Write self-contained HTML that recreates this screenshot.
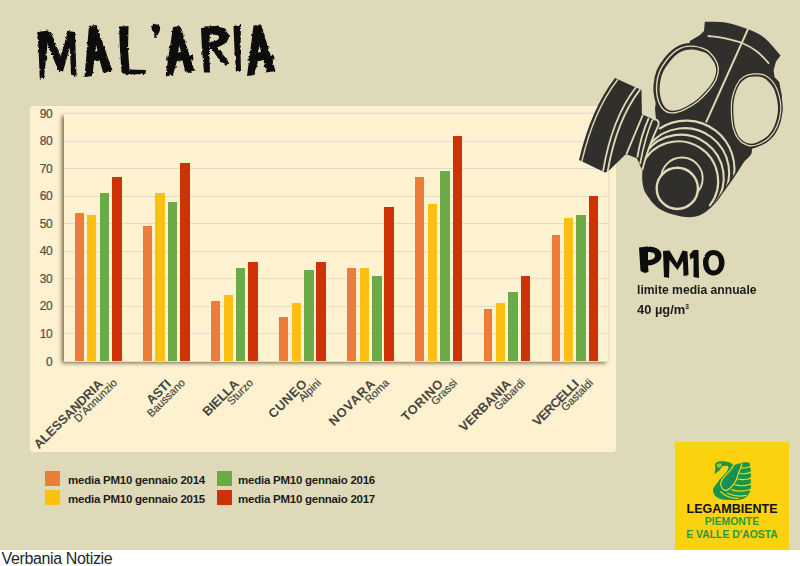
<!DOCTYPE html>
<html><head><meta charset="utf-8"><title>Mal'aria</title>
<style>
html,body{margin:0;padding:0;background:#fff;}
body{width:800px;height:566px;position:relative;overflow:hidden;font-family:"Liberation Sans",sans-serif;}
#bg{position:absolute;left:0;top:0;width:800px;height:549.5px;background:#ded9b9;}
#panel{position:absolute;left:30px;top:106px;width:586.2px;height:345.5px;background:#fdf1cf;border-radius:3.5px;}
#plot{position:absolute;left:64px;top:113.5px;width:544px;height:247.80px;background:#fef2d0;box-shadow:-2px 2px 4px rgba(70,55,20,.75);}
.gl{position:absolute;left:64px;width:544px;height:1px;background:#dfddd0;}
.yl{position:absolute;left:30px;width:22.1px;text-align:right;font-size:12px;letter-spacing:-.5px;line-height:15px;color:#504f45;-webkit-text-stroke:.2px #504f45;}
.b{position:absolute;width:9.3px;}
.xl{position:absolute;width:200px;height:30px;text-align:right;transform-origin:100% 0;transform:rotate(-45deg);color:#47463f;white-space:nowrap;}
.xl b{display:block;font-size:12.8px;line-height:13px;font-weight:bold;}
.xl i{display:block;font-style:normal;font-size:10.9px;line-height:11px;margin-right:-10.8px;margin-top:-2.2px;-webkit-text-stroke:.2px #47463f;}
.lg{position:absolute;width:15.5px;height:14.5px;}
.lt{position:absolute;font-size:11.5px;letter-spacing:-.24px;font-weight:bold;color:#1d1d1b;white-space:nowrap;line-height:14px;}
#lim{position:absolute;left:637px;top:280px;font-weight:bold;color:#1d1d1b;font-size:13.5px;line-height:19.6px;white-space:nowrap;}
#lim span{display:block;transform-origin:0 50%;}
#lim .l1{transform:scaleX(.9);}
#lim .l2{transform:scaleX(.955);}
#lim sup{font-size:7px;vertical-align:baseline;position:relative;top:-5px;line-height:0;}
#logo{position:absolute;left:675px;top:442px;width:114px;height:107.5px;background:#fcd20f;}
#logo .l1{position:absolute;left:0;width:114px;top:502.5px;}
.lgt{position:absolute;left:675px;width:114px;text-align:center;font-weight:bold;white-space:nowrap;}
#vn{position:absolute;left:1.5px;top:549px;letter-spacing:-.36px;font-size:16px;line-height:19px;color:#262626;white-space:nowrap;}
svg{position:absolute;left:0;top:0;}
</style></head><body>
<div id="bg"></div>
<div id="panel"></div>
<div id="plot"></div>
<div class="gl" style="top:113.00px"></div>
<div class="gl" style="top:140.53px"></div>
<div class="gl" style="top:168.07px"></div>
<div class="gl" style="top:195.60px"></div>
<div class="gl" style="top:223.13px"></div>
<div class="gl" style="top:250.67px"></div>
<div class="gl" style="top:278.20px"></div>
<div class="gl" style="top:305.73px"></div>
<div class="gl" style="top:333.27px"></div>
<div class="gl" style="top:360.80px"></div>
<div class="yl" style="top:106.70px">90</div>
<div class="yl" style="top:134.23px">80</div>
<div class="yl" style="top:161.77px">70</div>
<div class="yl" style="top:189.30px">60</div>
<div class="yl" style="top:216.83px">50</div>
<div class="yl" style="top:244.37px">40</div>
<div class="yl" style="top:271.90px">30</div>
<div class="yl" style="top:299.43px">20</div>
<div class="yl" style="top:326.97px">10</div>
<div class="yl" style="top:354.50px">0</div>
<div class="b" style="left:74.90px;top:212.62px;width:8.9px;height:148.68px;background:#ec7c38"></div>
<div class="b" style="left:87.30px;top:215.37px;width:9.2px;height:145.93px;background:#fcc010"></div>
<div class="b" style="left:99.50px;top:193.35px;width:9.8px;height:167.95px;background:#6baa47"></div>
<div class="b" style="left:112.00px;top:176.83px;width:9.5px;height:184.47px;background:#cf3208"></div>
<div class="b" style="left:143.00px;top:226.39px;width:8.9px;height:134.91px;background:#ec7c38"></div>
<div class="b" style="left:155.40px;top:193.35px;width:9.2px;height:167.95px;background:#fcc010"></div>
<div class="b" style="left:167.60px;top:201.61px;width:9.8px;height:159.69px;background:#6baa47"></div>
<div class="b" style="left:180.10px;top:163.06px;width:9.5px;height:198.24px;background:#cf3208"></div>
<div class="b" style="left:211.10px;top:300.73px;width:8.9px;height:60.57px;background:#ec7c38"></div>
<div class="b" style="left:223.50px;top:295.22px;width:9.2px;height:66.08px;background:#fcc010"></div>
<div class="b" style="left:235.70px;top:267.69px;width:9.8px;height:93.61px;background:#6baa47"></div>
<div class="b" style="left:248.20px;top:262.18px;width:9.5px;height:99.12px;background:#cf3208"></div>
<div class="b" style="left:279.20px;top:317.25px;width:8.9px;height:44.05px;background:#ec7c38"></div>
<div class="b" style="left:291.60px;top:303.48px;width:9.2px;height:57.82px;background:#fcc010"></div>
<div class="b" style="left:303.80px;top:270.44px;width:9.8px;height:90.86px;background:#6baa47"></div>
<div class="b" style="left:316.30px;top:262.18px;width:9.5px;height:99.12px;background:#cf3208"></div>
<div class="b" style="left:347.30px;top:267.69px;width:8.9px;height:93.61px;background:#ec7c38"></div>
<div class="b" style="left:359.70px;top:267.69px;width:9.2px;height:93.61px;background:#fcc010"></div>
<div class="b" style="left:371.90px;top:275.95px;width:9.8px;height:85.35px;background:#6baa47"></div>
<div class="b" style="left:384.40px;top:207.11px;width:9.5px;height:154.19px;background:#cf3208"></div>
<div class="b" style="left:415.40px;top:176.83px;width:8.9px;height:184.47px;background:#ec7c38"></div>
<div class="b" style="left:427.80px;top:204.36px;width:9.2px;height:156.94px;background:#fcc010"></div>
<div class="b" style="left:440.00px;top:171.32px;width:9.8px;height:189.98px;background:#6baa47"></div>
<div class="b" style="left:452.50px;top:135.53px;width:9.5px;height:225.77px;background:#cf3208"></div>
<div class="b" style="left:483.50px;top:308.99px;width:8.9px;height:52.31px;background:#ec7c38"></div>
<div class="b" style="left:495.90px;top:303.48px;width:9.2px;height:57.82px;background:#fcc010"></div>
<div class="b" style="left:508.10px;top:292.47px;width:9.8px;height:68.83px;background:#6baa47"></div>
<div class="b" style="left:520.60px;top:275.95px;width:9.5px;height:85.35px;background:#cf3208"></div>
<div class="b" style="left:551.60px;top:234.65px;width:8.9px;height:126.65px;background:#ec7c38"></div>
<div class="b" style="left:564.00px;top:218.13px;width:9.2px;height:143.17px;background:#fcc010"></div>
<div class="b" style="left:576.20px;top:215.37px;width:9.8px;height:145.93px;background:#6baa47"></div>
<div class="b" style="left:588.70px;top:196.10px;width:9.5px;height:165.20px;background:#cf3208"></div>
<div class="xl" style="left:-104.50px;top:377.2px"><b style="letter-spacing:-0.09px;margin-right:0.09px">ALESSANDRIA</b><i>D’Annunzio</i></div>
<div class="xl" style="left:-36.40px;top:377.2px"><b style="letter-spacing:-0.16px;margin-right:0.16px">ASTI</b><i>Baussano</i></div>
<div class="xl" style="left:31.70px;top:377.2px"><b style="letter-spacing:-0.19px;margin-right:0.19px">BIELLA</b><i>Sturzo</i></div>
<div class="xl" style="left:99.80px;top:377.2px"><b style="letter-spacing:0.56px;margin-right:-0.56px">CUNEO</b><i>Alpini</i></div>
<div class="xl" style="left:167.90px;top:377.2px"><b style="letter-spacing:0.9px;margin-right:-0.9px">NOVARA</b><i>Roma</i></div>
<div class="xl" style="left:236.00px;top:377.2px"><b style="letter-spacing:0.64px;margin-right:-0.64px">TORINO</b><i>Grassi</i></div>
<div class="xl" style="left:304.10px;top:377.2px"><b style="letter-spacing:0.04px;margin-right:-0.04px">VERBANIA</b><i>Gabardi</i></div>
<div class="xl" style="left:372.20px;top:377.2px"><b style="letter-spacing:-0.55px;margin-right:0.55px">VERCELLI</b><i>Gastaldi</i></div>
<div class="lg" style="left:44.5px;top:471px;background:#ec7c38"></div>
<div class="lg" style="left:44.5px;top:490px;background:#fcc010"></div>
<div class="lg" style="left:216.5px;top:471px;background:#6baa47"></div>
<div class="lg" style="left:216.5px;top:490px;background:#cf3208"></div>
<div class="lt" style="left:68px;top:473px">media PM10 gennaio 2014</div>
<div class="lt" style="left:68px;top:492px">media PM10 gennaio 2015</div>
<div class="lt" style="left:238px;top:473px">media PM10 gennaio 2016</div>
<div class="lt" style="left:238px;top:492px">media PM10 gennaio 2017</div>
<div id="lim"><span class="l1">limite media annuale</span><span class="l2">40 µg/m<sup>3</sup></span></div>
<div id="logo"></div>
<div class="lgt" style="top:502px;font-size:12.5px;line-height:14px;color:#111;">LEGAMBIENTE</div>
<div class="lgt" style="top:516px;font-size:10.4px;line-height:12px;color:#1f9a48;">PIEMONTE</div>
<div class="lgt" style="top:528.5px;font-size:10.4px;line-height:12px;color:#1f9a48;">E VALLE D'AOSTA</div>
<div id="vn">Verbania Notizie</div>
<svg width="800" height="566" viewBox="0 0 800 566">
<defs>
<filter id="rough" x="-5%" y="-10%" width="110%" height="120%">
<feTurbulence type="fractalNoise" baseFrequency="0.35" numOctaves="2" seed="7" result="n"/>
<feDisplacementMap in="SourceGraphic" in2="n" scale="3" xChannelSelector="R" yChannelSelector="G"/>
</filter>
</defs>
<g fill="#0e0e0d" filter="url(#rough)">
<!-- M -->
<path d="M37.5,32 L48.5,30.5 L46.5,55 L43.8,79 L39.8,78.5 L38.8,55 Z"/>
<path d="M43,33 L51,32 L64,65 L59.5,73.5 Z"/>
<path d="M57,70 L63,71.5 L74,33 L68,31 Z"/>
<path d="M67.5,31 L75,32 L76.5,76.5 L71,74.5 L70,50 Z"/>
<!-- A1 -->
<path fill-rule="evenodd" d="M89,26 L96.5,25 L112.5,71 L103,72.5 L99.5,60 L94,60.5 L92.5,76 L84.5,77 Z M96,44.5 L97.5,51 L95.2,51.5 Z"/>
<!-- L -->
<path d="M119,26.5 L128.5,26 L128,50 L129.5,69.5 L146,70 L145.5,74 L126,74.5 L121.5,72 L120,50 Z"/>
<!-- apostrophe -->
<path d="M152,26 C153,23.5 159,23.5 160,27 C161,31 158,34 155.5,38 L154,37.5 C155,34 155,33 153,31.5 C151.5,30 151.3,28 152,26 Z"/>
<!-- A2 -->
<path fill-rule="evenodd" d="M173,27 L180.5,26 L194.5,71 L185.5,72.5 L182.5,60.5 L177,61 L173,75 L165.5,76.5 Z M179.3,45 L180.8,52 L178,52.5 Z"/>
<path d="M166.5,56.5 L193,55.5 L193.5,59.5 L166,60.5 Z"/>
<!-- R -->
<path d="M201,28 L209.5,27.5 L209,50 L210,72.5 L204,72.5 L202,50 Z"/>
<path fill-rule="evenodd" d="M203,26.5 L215,26 C223,26.5 228,30 229,36 C229,43 220,47 210,49.5 L209,44 Z M209.5,34.5 L217,35 C220,36 220,38.5 216.5,40.5 L209.5,42.5 Z"/>
<path d="M209,45 L214.5,44 L229,62 L226,66 L218,58 Z"/>
<!-- I -->
<path d="M233.5,26 L241,25 L240.5,50 L241,72 L236,71.5 L234.5,50 Z"/>
<!-- A3 -->
<path fill-rule="evenodd" d="M253.5,25.5 L261,24.5 L275.5,71 L266.5,72.5 L263.5,60.5 L258,61 L254.5,75 L247,76 Z M259.3,44.5 L261,52 L258,52.5 Z"/>
<path d="M248,56.5 L274,55.5 L274.5,59.5 L247.5,60.5 Z"/>
</g>

<g id="mask">
<path fill="#302f2b" d="M704.8,21.8 C708.1,21.9 718.1,21.4 725.0,22.5 C731.9,23.6 739.5,26.0 746.0,28.5 C752.5,31.0 758.2,33.0 764.0,37.5 C769.8,42.0 777.8,52.5 780.5,55.5 L776,61.5 L773.6,70 L774.5,77 L779.2,82 L781.8,95.3 L782.2,109.5 L780,123.6 L774.8,134.2 L766,143 L755.3,147.8 L752.5,148.5 L733.6,177.5 L716,201.5 L700,190 L660,170 L645,160 L659,124 L656,119 L655,109 L656,100 L675,100 L690,41 L700,35 L704,31 Z"/>
<path fill="#302f2b" d="M751.6,149.5 C753.7,155.1 745.6,159.1 742.6,163.8 C739.6,168.6 736.7,173.4 733.6,178.0 C730.5,182.6 727.3,187.1 724.0,191.5 C720.7,195.9 718.1,200.5 714.0,204.5 C709.9,208.5 704.7,213.5 699.3,215.5 C693.9,217.5 688.1,217.6 681.5,216.5 C674.9,215.4 665.5,212.6 659.7,209.0 C653.9,205.4 649.6,199.0 646.8,195.0 C644.0,191.0 643.6,188.6 642.9,185.0 C642.1,181.4 642.1,177.0 642.3,173.4 C642.5,169.8 642.6,167.4 643.9,163.5 C645.2,159.6 647.0,155.2 650.0,150.0 C653.0,144.8 655.3,137.0 662.0,132.0 C668.7,127.0 678.7,120.3 690.0,120.0 C701.3,119.7 719.7,125.1 730.0,130.0 C740.3,134.9 749.5,143.9 751.6,149.5 Z"/>
<clipPath id="vclip"><path d="M600,100 L755,100 L755,145 L751.3,149.3 L713.7,204.3 L699,215 L690,230 L600,230 Z"/></clipPath>
<path d="M690.4,48.8 C694.6,48.8 700.9,50.2 704.5,52.0 C708.1,53.8 710.4,57.1 712.3,59.8 C714.1,62.5 715.4,65.2 715.6,68.3 C715.8,71.4 715.1,74.9 713.7,78.2 C712.3,81.5 710.4,84.5 707.4,88.0 C704.4,91.5 700.0,96.2 696.0,99.4 C692.0,102.6 687.3,105.3 683.3,107.1 C679.3,108.9 675.2,110.3 672.0,110.2 C668.8,110.1 666.3,108.7 664.3,106.4 C662.3,104.1 660.8,100.0 660.0,96.5 C659.2,93.0 658.9,89.2 659.3,85.2 C659.6,81.2 660.5,76.5 662.1,72.5 C663.8,68.5 666.4,64.6 669.2,61.2 C672.0,57.8 675.6,54.1 679.1,52.0 C682.6,49.9 686.2,48.8 690.4,48.8 Z" fill="none" stroke="#302f2b" stroke-width="11.6" stroke-linejoin="round"/>
<path d="M690.4,48.8 C694.6,48.8 700.9,50.2 704.5,52.0 C708.1,53.8 710.4,57.1 712.3,59.8 C714.1,62.5 715.4,65.2 715.6,68.3 C715.8,71.4 715.1,74.9 713.7,78.2 C712.3,81.5 710.4,84.5 707.4,88.0 C704.4,91.5 700.0,96.2 696.0,99.4 C692.0,102.6 687.3,105.3 683.3,107.1 C679.3,108.9 675.2,110.3 672.0,110.2 C668.8,110.1 666.3,108.7 664.3,106.4 C662.3,104.1 660.8,100.0 660.0,96.5 C659.2,93.0 658.9,89.2 659.3,85.2 C659.6,81.2 660.5,76.5 662.1,72.5 C663.8,68.5 666.4,64.6 669.2,61.2 C672.0,57.8 675.6,54.1 679.1,52.0 C682.6,49.9 686.2,48.8 690.4,48.8 Z" fill="none" stroke="#ded9b9" stroke-width="6.8" stroke-linejoin="round"/>
<path d="M690.4,48.8 C694.6,48.8 700.9,50.2 704.5,52.0 C708.1,53.8 710.4,57.1 712.3,59.8 C714.1,62.5 715.4,65.2 715.6,68.3 C715.8,71.4 715.1,74.9 713.7,78.2 C712.3,81.5 710.4,84.5 707.4,88.0 C704.4,91.5 700.0,96.2 696.0,99.4 C692.0,102.6 687.3,105.3 683.3,107.1 C679.3,108.9 675.2,110.3 672.0,110.2 C668.8,110.1 666.3,108.7 664.3,106.4 C662.3,104.1 660.8,100.0 660.0,96.5 C659.2,93.0 658.9,89.2 659.3,85.2 C659.6,81.2 660.5,76.5 662.1,72.5 C663.8,68.5 666.4,64.6 669.2,61.2 C672.0,57.8 675.6,54.1 679.1,52.0 C682.6,49.9 686.2,48.8 690.4,48.8 Z" fill="#302f2b" stroke="#302f2b" stroke-width="4.0" stroke-linejoin="round"/>
<path d="M690.4,48.8 C694.6,48.8 700.9,50.2 704.5,52.0 C708.1,53.8 710.4,57.1 712.3,59.8 C714.1,62.5 715.4,65.2 715.6,68.3 C715.8,71.4 715.1,74.9 713.7,78.2 C712.3,81.5 710.4,84.5 707.4,88.0 C704.4,91.5 700.0,96.2 696.0,99.4 C692.0,102.6 687.3,105.3 683.3,107.1 C679.3,108.9 675.2,110.3 672.0,110.2 C668.8,110.1 666.3,108.7 664.3,106.4 C662.3,104.1 660.8,100.0 660.0,96.5 C659.2,93.0 658.9,89.2 659.3,85.2 C659.6,81.2 660.5,76.5 662.1,72.5 C663.8,68.5 666.4,64.6 669.2,61.2 C672.0,57.8 675.6,54.1 679.1,52.0 C682.6,49.9 686.2,48.8 690.4,48.8 Z" fill="#ded9b9" transform="translate(0.5,0.6)"/>
<path d="M753.6,76.3 C756.9,76.1 761.0,76.0 764.2,77.7 C767.4,79.4 770.8,83.0 773.0,86.5 C775.2,90.0 776.5,94.8 777.4,98.9 C778.3,103.0 778.7,106.8 778.3,111.2 C777.9,115.6 776.6,121.3 774.8,125.4 C773.0,129.5 770.7,133.2 767.7,136.0 C764.8,138.8 760.3,141.0 757.1,142.2 C753.9,143.4 751.1,143.8 748.3,143.0 C745.5,142.2 742.4,140.3 740.3,137.7 C738.2,135.0 736.6,131.2 735.5,127.1 C734.4,123.0 734.0,117.7 733.8,113.0 C733.6,108.3 733.7,103.3 734.5,98.9 C735.3,94.5 736.9,89.8 738.6,86.5 C740.3,83.2 742.2,80.8 744.7,79.1 C747.2,77.4 750.4,76.5 753.6,76.3 Z" fill="none" stroke="#302f2b" stroke-width="8.6" stroke-linejoin="round"/>
<path d="M753.6,76.3 C756.9,76.1 761.0,76.0 764.2,77.7 C767.4,79.4 770.8,83.0 773.0,86.5 C775.2,90.0 776.5,94.8 777.4,98.9 C778.3,103.0 778.7,106.8 778.3,111.2 C777.9,115.6 776.6,121.3 774.8,125.4 C773.0,129.5 770.7,133.2 767.7,136.0 C764.8,138.8 760.3,141.0 757.1,142.2 C753.9,143.4 751.1,143.8 748.3,143.0 C745.5,142.2 742.4,140.3 740.3,137.7 C738.2,135.0 736.6,131.2 735.5,127.1 C734.4,123.0 734.0,117.7 733.8,113.0 C733.6,108.3 733.7,103.3 734.5,98.9 C735.3,94.5 736.9,89.8 738.6,86.5 C740.3,83.2 742.2,80.8 744.7,79.1 C747.2,77.4 750.4,76.5 753.6,76.3 Z" fill="none" stroke="#ded9b9" stroke-width="6.0" stroke-linejoin="round"/>
<path d="M753.6,76.3 C756.9,76.1 761.0,76.0 764.2,77.7 C767.4,79.4 770.8,83.0 773.0,86.5 C775.2,90.0 776.5,94.8 777.4,98.9 C778.3,103.0 778.7,106.8 778.3,111.2 C777.9,115.6 776.6,121.3 774.8,125.4 C773.0,129.5 770.7,133.2 767.7,136.0 C764.8,138.8 760.3,141.0 757.1,142.2 C753.9,143.4 751.1,143.8 748.3,143.0 C745.5,142.2 742.4,140.3 740.3,137.7 C738.2,135.0 736.6,131.2 735.5,127.1 C734.4,123.0 734.0,117.7 733.8,113.0 C733.6,108.3 733.7,103.3 734.5,98.9 C735.3,94.5 736.9,89.8 738.6,86.5 C740.3,83.2 742.2,80.8 744.7,79.1 C747.2,77.4 750.4,76.5 753.6,76.3 Z" fill="#302f2b" stroke="#302f2b" stroke-width="3.6" stroke-linejoin="round"/>
<path d="M753.6,76.3 C756.9,76.1 761.0,76.0 764.2,77.7 C767.4,79.4 770.8,83.0 773.0,86.5 C775.2,90.0 776.5,94.8 777.4,98.9 C778.3,103.0 778.7,106.8 778.3,111.2 C777.9,115.6 776.6,121.3 774.8,125.4 C773.0,129.5 770.7,133.2 767.7,136.0 C764.8,138.8 760.3,141.0 757.1,142.2 C753.9,143.4 751.1,143.8 748.3,143.0 C745.5,142.2 742.4,140.3 740.3,137.7 C738.2,135.0 736.6,131.2 735.5,127.1 C734.4,123.0 734.0,117.7 733.8,113.0 C733.6,108.3 733.7,103.3 734.5,98.9 C735.3,94.5 736.9,89.8 738.6,86.5 C740.3,83.2 742.2,80.8 744.7,79.1 C747.2,77.4 750.4,76.5 753.6,76.3 Z" fill="#ded9b9" transform="translate(-0.4,0.3)"/>
<path d="M748,29 L706,122.5" stroke="#ded9b9" stroke-width="1.9" fill="none"/>
<path d="M708.5,36.0 C711.2,36.4 719.4,37.1 725.0,38.3 C730.6,39.5 736.7,40.8 742.0,43.0 C747.3,45.2 752.6,48.2 757.0,51.5 C761.4,54.8 766.6,61.1 768.5,63.0" stroke="#ded9b9" stroke-width="1.8" fill="none" stroke-linecap="round"/>
<g clip-path="url(#vclip)">
<path d="M642.4,164.4 A39.7,39.7 0 1 1 709.8,205.4" stroke="#ded9b9" stroke-width="2.1" fill="none" stroke-linecap="round"/>
<path d="M646.1,152.0 A43.1,43.1 0 0 1 715.2,203.6" stroke="#ded9b9" stroke-width="2.1" fill="none" stroke-linecap="round"/>
<path d="M649.8,144.6 A44.7,44.7 0 0 1 721.4,198.0" stroke="#ded9b9" stroke-width="2.1" fill="none" stroke-linecap="round"/>
<path d="M659.7,128.5 A48.3,48.3 0 0 1 732.2,183.4" stroke="#ded9b9" stroke-width="2.1" fill="none" stroke-linecap="round"/>
</g>
<circle cx="681.9" cy="178.3" r="20.8" fill="#302f2b" stroke="#ded9b9" stroke-width="1.9"/>
<circle cx="677.3" cy="188.4" r="20.6" fill="#302f2b" stroke="#ded9b9" stroke-width="2.4"/>
<path fill="#302f2b" d="M615,78 L641.5,90 L641.9,114.2 L653,119.3 C657,119 660,122 658.3,126 L650,145 L642,170 L637,158.5 L626,154 L608,171.5 L605,172.5 L579,160 Q591,109 615,78 Z"/>
<path d="M617.8,79.5 Q593.8,110 581.8,161.5" stroke="#ded9b9" stroke-width="1.4" fill="none"/>
<path d="M636,87.3 Q612,118 603,171.5" stroke="#ded9b9" stroke-width="1.8" fill="none"/>
<path d="M640,89.6 Q616.5,120 607.5,172" stroke="#ded9b9" stroke-width="1.8" fill="none"/>
<path d="M642.8,115 L626.5,154" stroke="#ded9b9" stroke-width="1.9" fill="none"/>
<path d="M648.8,118 Q641,135 637.3,157.5" stroke="#ded9b9" stroke-width="1.8" fill="none"/>
<path d="M652.3,120 Q645,138 640,164" stroke="#ded9b9" stroke-width="1.7" fill="none"/>
<path d="M652.5,119.6 C656.5,118.6 660,121 658.3,125.5 Q648,147 642.3,170" stroke="#ded9b9" stroke-width="1.8" fill="none"/>
</g>
<g fill="#0e0e0d" filter="url(#rough2)">
<defs><filter id="rough2" x="-5%" y="-10%" width="110%" height="120%">
<feTurbulence type="fractalNoise" baseFrequency="0.5" numOctaves="2" seed="3" result="n"/>
<feDisplacementMap in="SourceGraphic" in2="n" scale="1.8" xChannelSelector="R" yChannelSelector="G"/>
</filter></defs>
<!-- P -->
<path fill-rule="evenodd" d="M639,247.5 L647,246.5 C656,246 662,250 661.5,256 C661,262 655,265 648,265.5 L648.5,272 L644.5,273 L640.5,271 Z M648,252 L648,260 C652,260 655,258.5 655,255.5 C655,253 652,252 648,252 Z"/>
<!-- M -->
<path d="M663,251 L669.5,250.5 L677,263 L682.5,250.5 L687.5,251.5 L688.5,275 L683.5,276 L683,261 L677.5,270 L669.5,260 L669,278 L664,277 Z"/>
<!-- 1 -->
<path d="M689.5,254.5 L693.5,250 L698.5,250 L699,278 L693.5,277 L693.5,257.5 L690.5,259.5 Z"/>
<!-- 0 -->
<path fill-rule="evenodd" d="M713.5,250 C720,250 724.5,255.5 724.5,262.5 C724.5,270 720,275.5 713.5,275.5 C707,275.5 703,270 703,262.5 C703,255.5 707,250 713.5,250 Z M713.5,255 C710.5,255 708.5,258 708.5,262.5 C708.5,267 710.5,270.5 713.5,270.5 C717,270.5 719,267 719,262.5 C719,258 717,255 713.5,255 Z"/>
</g>

<g id="swan">
<path fill="#1a9648" d="M719,461.6 C722,461 726,461.4 729,462.2 C731.5,463 733,464.3 733.6,465.6 C735.5,464.5 737.5,464 739.4,463.6 C742.5,462 746.5,461.8 749.6,462.8 L750.9,470.4 L750.9,487.4 C750.6,490.5 750,492.5 748.7,494 C747,497 744.8,498.5 741.9,499.2 C738,500.3 733.5,500.3 729.2,500 C725.5,499.9 722,499.5 719,498.4 C716.5,497.3 714.6,495.8 713.9,494 C713.2,492.7 712.9,491.3 713,490 C713.4,487.8 714.8,485.7 716.5,484 C718,481.5 720,479 722,477 C724,475 725.8,473 727,471 C728.3,469.3 728.8,467.5 728,466.3 C726.5,465.5 724,465.8 722,466.6 C721,467.6 720.5,468.8 720,470 L714.4,474.2 L715.5,468 C714.9,466.3 714.8,464.8 715.4,463.5 C716.2,462.4 717.5,461.9 719,461.6 Z"/>
<path fill="#11905c" d="M739.4,464.2 C736.5,469 731.5,473.5 727,478 C723.5,481.5 721.5,485 722.6,488.3 C723.6,490.7 727,491 730,488.2 C733.5,484.5 737.5,476 739.4,464.2 Z"/>
<g fill="none" stroke="#f3d61a" stroke-width="1.15" stroke-linecap="round">
<path d="M733.4,465.6 C732,468 730.8,469.5 729.2,471.3 C727,473.8 724.8,476 723.3,478 C721.5,480.2 720.4,482 720.7,484.3 C721,486.8 722.5,489.3 725,490.4"/>
<path d="M741.9,463.6 C741.3,467 740,470 738.5,473 C737.8,475.5 737,478.2 736,480.6 C734.5,483.7 732.8,486 730,488.2 C728.5,489.5 726.8,490.3 725,490.7"/>
<path d="M741,467.6 Q746,468.8 750.4,466.6"/>
<path d="M739.6,473.2 Q745.5,474.6 750.8,472.2"/>
<path d="M737.7,479 Q744.5,480.6 750.8,478.2"/>
<path d="M735.1,484.9 Q743,486.8 750.4,484.2"/>
<path d="M731.7,489.9 Q741,492.4 749.5,489.7"/>
<path d="M727.5,493.2 Q737,497.6 746.1,495.4"/>
<path d="M720.7,491.6 Q727,498.3 737.7,498.4"/>
</g>
<path fill="#fcd20f" d="M752,465.1 L748.6,466.7 L752,468.3 Z"/><path fill="#fcd20f" d="M752,470.7 L748.6,472.3 L752,473.9 Z"/><path fill="#fcd20f" d="M752,476.7 L748.6,478.3 L752,479.9 Z"/><path fill="#fcd20f" d="M752,482.7 L748.6,484.3 L752,485.9 Z"/><path fill="#fcd20f" d="M752,488.2 L748.6,489.8 L752,491.4 Z"/>
<path fill="#c9d82a" d="M716.6,464.6 L720.6,463.2 L721.4,466 L718.2,467.8 Z"/>
<circle cx="719" cy="465.3" r=".7" fill="#1a9648"/>
</g>

</svg>
</body></html>
